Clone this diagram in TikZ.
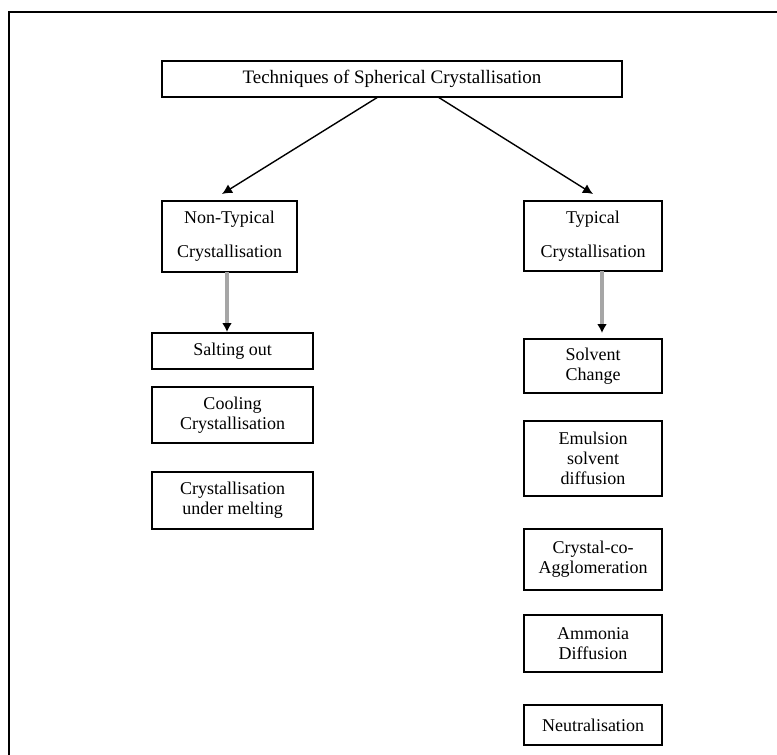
\documentclass[tikz,border=0pt]{standalone}
\usepackage{fontspec}
\setmainfont{Liberation Serif}
\usetikzlibrary{arrows.meta}
\begin{document}
\begin{tikzpicture}[x=1pt,y=-1pt,
  box/.style={draw=black, line width=1.8pt, rectangle, align=center, inner sep=0pt,
    font=\fontsize{18}{20}\selectfont},
  rbox/.style={box, minimum width=138pt},
  lbox/.style={box, minimum width=161pt},
  darr/.style={draw=black, line width=1.4pt, -{Latex[length=10pt,width=10pt]}},
  garr/.style={draw=black!35, line width=3.2pt, -{Latex[length=9pt,width=10pt,color=black]}}]
\useasboundingbox (0,0) rectangle (777,755);
\draw[line width=2.2pt] (9,755) -- (9,12) -- (777,12);

\node[box, minimum width=460pt, minimum height=36pt, font=\fontsize{19}{21}\selectfont] (title) at (392,79) {Techniques of Spherical Crystallisation};

\node[box, minimum width=135pt, minimum height=71pt, font=\fontsize{18}{34}\selectfont] (nt) at (229.5,236.5) {Non-Typical\\Crystallisation};
\node[box, minimum width=138pt, minimum height=70pt, font=\fontsize{18}{34}\selectfont] (ty) at (593,236) {Typical\\Crystallisation};

\node[lbox, minimum height=36pt] (salt) at (232.5,351) {Salting out};
\node[lbox, minimum height=56pt] (cool) at (232.5,415) {Cooling\\Crystallisation};
\node[lbox, minimum height=57pt] (melt) at (232.5,500.5) {Crystallisation\\under melting};

\node[rbox, minimum height=54pt] (solv) at (593,366) {Solvent\\Change};
\node[rbox, minimum height=75pt] (emul) at (593,458.5) {Emulsion\\solvent\\diffusion};
\node[rbox, minimum height=61pt] (agg) at (593,559.5) {Crystal-co-\\Agglomeration};
\node[rbox, minimum height=57pt] (amm) at (593,643.5) {Ammonia\\Diffusion};
\node[rbox, minimum height=40pt] (neu) at (593,725) {Neutralisation};

\coordinate (a1s) at (378,97);
\coordinate (a1e) at (222,194);
\coordinate (a2s) at (438,97);
\coordinate (a2e) at (593,194);
\draw[darr] (a1s) -- (a1e);
\draw[darr] (a2s) -- (a2e);

\coordinate (g1s) at (227,272);
\coordinate (g1e) at (227,332);
\coordinate (g2s) at (602,271);
\coordinate (g2e) at (602,333);
\draw[garr] (g1s) -- (g1e);
\draw[garr] (g2s) -- (g2e);
\end{tikzpicture}
\end{document}
